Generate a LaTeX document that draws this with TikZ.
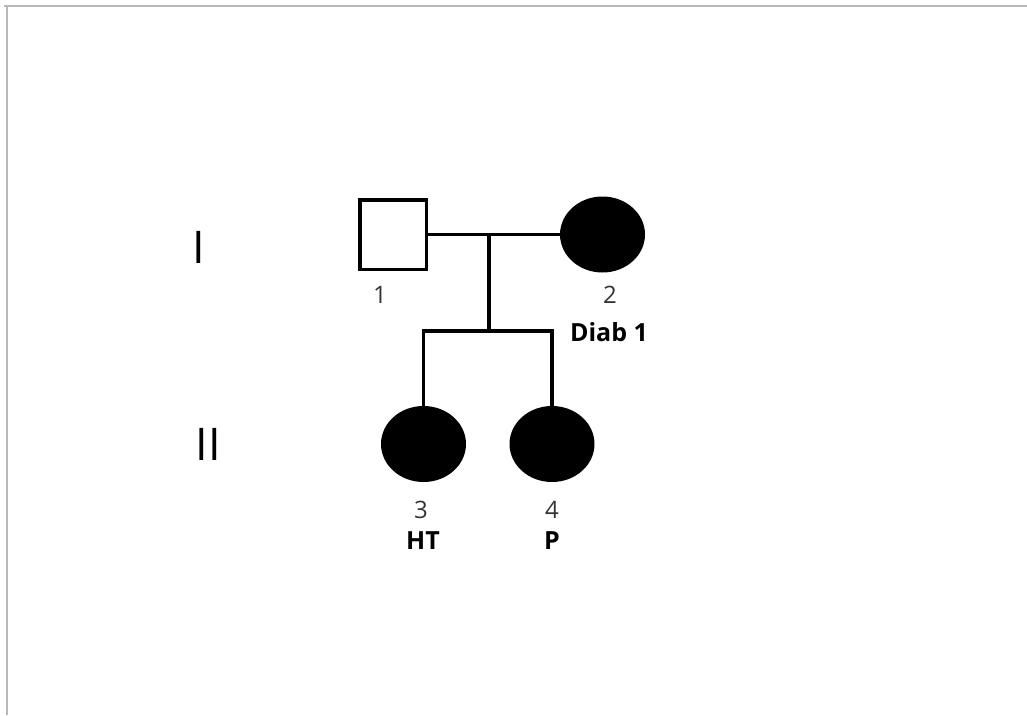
\documentclass[tikz,border=0pt]{standalone}
\usepackage{fontspec}
\setmainfont{Open Sans}
\usetikzlibrary{shapes.geometric}

\begin{document}
\begin{tikzpicture}[x=1pt, y=-1pt, line width=3.5pt,
	every node/.style={black},
	male/.style={draw, rectangle, minimum width=66.5pt, minimum height=69.5pt, inner sep=0pt},
	affected/.style={draw, fill, ellipse, minimum width=81.5pt, minimum height=72.5pt, inner sep=0pt},
	num/.style={font=\fontsize{24}{28}\selectfont, text=black!80, inner sep=0pt},
	note/.style={font=\fontsize{25}{30}\selectfont\bfseries, inner sep=0pt},
	gen/.style={font=\fontsize{45}{50}\selectfont, inner sep=0pt}]
				\useasboundingbox (0,0) rectangle (1027,715);
				\draw[gray!55, line width=2pt] (4,6) -- (1027,6) (7,6) -- (7,715);
				% generations
				\node[gen] (g1) at (199,247) {I};
				\node[gen] (g2) at (208,444) {II};
				% parents
				\node[male] (p1) at (393,234.5) {};
				\node[affected] (p2) at (602.5,234.5) {};
				\node[num] (n1) at (380,295) {1};
				\node[num] (n2) at (610,295) {2};
				\node[note] (d2) at (609,332) {Diab 1};
				% children
				\node[affected] (p3) at (423.5,444) {};
				\node[affected] (p4) at (552,444) {};
				\node[num] (n3) at (421,510) {3};
				\node[num] (n4) at (552,510) {4};
				\node[note] (d3) at (423,541) {HT};
				\node[note] (d4) at (552,541) {P};
				% lines
				\draw (p1) -- (p2);
				\coordinate (m) at (489,233);
				\coordinate (sib) at (489,331);
				\draw (m) -- (sib);
				\draw (p3.north) |- (sib) -| (p4.north);
			\end{tikzpicture}
\end{document}
